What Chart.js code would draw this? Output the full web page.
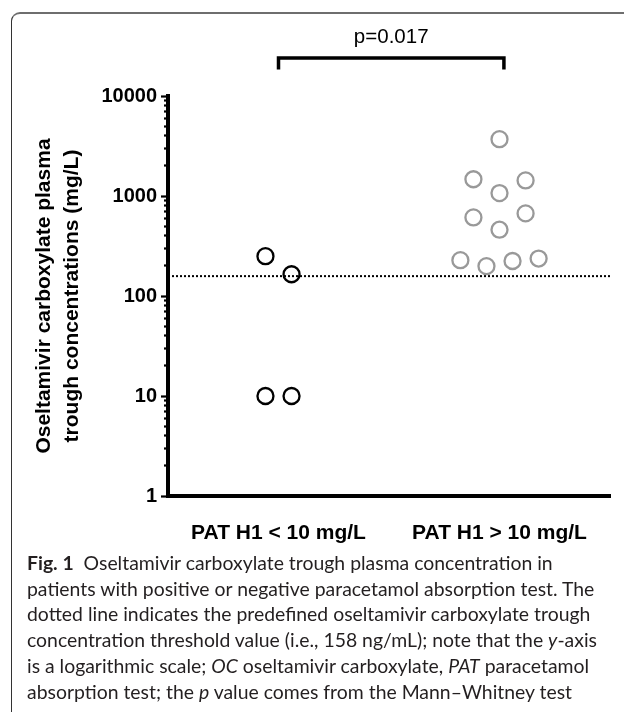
<!DOCTYPE html>
<html>
<head>
<meta charset="utf-8">
<script src="https://cdn.jsdelivr.net/npm/chart.js@4.4.1/dist/chart.umd.min.js"></script>
<style>
  html, body { margin: 0; padding: 0; background: #fff; }
  #page { position: relative; width: 624px; height: 712px; overflow: hidden; }
  #frame {
    position: absolute; left: 11px; top: 12px; width: 640px; height: 720px;
    border-top: 2px solid #6e6e6e; border-left: 1.5px solid #333;
    border-top-left-radius: 9px;
  }
  #chartBox { position: absolute; left: 0; top: 0; width: 624px; height: 560px; }
  #caption {
    position: absolute; left: 27px; top: 550px;
    font-family: Lato, "Open Sans", sans-serif; font-size: 19.4px; line-height: 25.7px;
    color: #231f20; white-space: nowrap;
  }
  #caption b { font-weight: bold; }
</style>
</head>
<body>
<div id="page">
  <div id="frame"></div>
  <div id="chartBox"><canvas id="concChart" width="624" height="560"></canvas></div>
  <div id="caption">
    <div><b>Fig. 1</b>&nbsp; Oseltamivir carboxylate trough plasma concentration in</div>
    <div>patients with positive or negative paracetamol absorption test. The</div>
    <div>dotted line indicates the predefined oseltamivir carboxylate trough</div>
    <div>concentration threshold value (i.e., 158 ng/mL); note that the <i>y</i>-axis</div>
    <div>is a logarithmic scale; <i>OC</i> oseltamivir carboxylate, <i>PAT</i> paracetamol</div>
    <div>absorption test; the <i>p</i> value comes from the Mann–Whitney test</div>
  </div>
</div>
<script>
'use strict';

/* data (mg/L, log scale) */
var categories = ['PAT H1 < 10 mg/L', 'PAT H1 > 10 mg/L'];
var lowPatValues = [250, 165, 10, 10];
var lowPatJitter = [-0.059, 0.059, -0.059, 0.059];
var highPatValues = [3700, 1470, 1430, 1070, 610, 670, 460, 228, 199, 224, 237];
var highPatJitter = [0, -0.118, 0.118, 0, -0.118, 0.118, 0, -0.177, -0.059, 0.059, 0.177];
var thresholdValue = 158;
var yMajorTicks = [1, 10, 100, 1000, 10000];
var yMinorTicks = [2, 3, 4, 5, 6, 7, 8, 9, 20, 30, 40, 50, 60, 70, 80, 90,
	200, 300, 400, 500, 600, 700, 800, 900, 2000, 3000, 4000, 5000, 6000, 7000, 8000, 9000];
var bracketLow = 18400;
var bracketHigh = 24000;
var bracketEnds = [1, 2.02];
var pValueText = 'p=0.017';

function toPoints(values, jitter, group) {
	return values.map(function (v, i) {
		return { x: group + jitter[i], y: v };
	});
}

Chart.defaults.font.family = '"Liberation Sans", Arial, sans-serif';
Chart.defaults.color = '#000';

/* p value text above the bracket */
var pValuePlugin = {
	id: 'pValue',
	afterDatasetsDraw: function (chart) {
		var ctx = chart.ctx;
		var xs = chart.scales.x;
		var ys = chart.scales.y;
		var cx = (xs.getPixelForValue(bracketEnds[0]) + xs.getPixelForValue(bracketEnds[1])) / 2;
		var cy = ys.getPixelForValue(bracketHigh) - 21;
		ctx.save();
		ctx.font = '20.5px "Liberation Sans", Arial, sans-serif';
		ctx.fillStyle = '#000';
		ctx.textAlign = 'center';
		ctx.textBaseline = 'middle';
		ctx.fillText(pValueText, cx, cy);
		ctx.restore();
	}
};

var ctxOne = document.getElementById('concChart').getContext('2d');
var chart = new Chart(ctxOne, {
	type: 'scatter',
	data: {
		datasets: [{
			label: 'threshold',
			type: 'line',
			data: [{ x: 0.5, y: thresholdValue }, { x: 2.5, y: thresholdValue }],
			borderColor: '#000',
			borderWidth: 2,
			borderDash: [2, 2],
			pointRadius: 0,
			fill: false,
		},
		{
			label: 'bracket',
			type: 'line',
			data: [
				{ x: bracketEnds[0], y: bracketLow }, { x: bracketEnds[0], y: bracketHigh },
				{ x: bracketEnds[1], y: bracketHigh }, { x: bracketEnds[1], y: bracketLow }
			],
			borderColor: '#000',
			borderWidth: 3.5,
			borderCapStyle: 'butt',
			borderJoinStyle: 'miter',
			pointRadius: 0,
			fill: false,
			clip: false,
		},
		{
			label: categories[0],
			data: toPoints(lowPatValues, lowPatJitter, 1),
			pointRadius: 8,
			borderWidth: 2.3,
			borderColor: '#000',
			backgroundColor: 'rgba(0,0,0,0)',
		},
		{
			label: categories[1],
			data: toPoints(highPatValues, highPatJitter, 2),
			pointRadius: 8,
			borderWidth: 2.3,
			borderColor: '#999',
			backgroundColor: 'rgba(0,0,0,0)',
		}]
	},
	options: {
		responsive: false,
		animation: false,
		layout: { padding: { left: 0, right: 14, top: 96, bottom: 0 } },
		plugins: { legend: { display: false }, tooltip: { enabled: false } },
		scales: {
			x: {
				type: 'linear',
				min: 0.5,
				max: 2.5,
				afterBuildTicks: function (scale) {
					scale.ticks = [{ value: 1 }, { value: 2 }];
				},
				afterFit: function (scale) { scale.height = 64; },
				ticks: {
					autoSkip: false,
					padding: 25,
					font: { size: 21, weight: 'bold' },
					callback: function (value) { return categories[value - 1]; }
				},
				grid: { drawOnChartArea: false, drawTicks: false },
				border: { display: true, width: 4, color: '#000' }
			},
			y: {
				type: 'logarithmic',
				position: 'left',
				weight: 1,
				min: 1,
				max: 10000,
				afterBuildTicks: function (scale) {
					scale.ticks = yMajorTicks.map(function (v) { return { value: v }; });
				},
				afterFit: function (scale) { scale.width = 168; },
				ticks: {
					autoSkip: false,
					padding: 4,
					font: { size: 20, weight: 'bold' },
					callback: function (value) { return String(value); }
				},
				grid: { drawOnChartArea: false, drawTicks: true, tickLength: 7, tickWidth: 2.2, tickColor: '#000' },
				border: { display: true, width: 4, color: '#000' },
				title: {
					display: true,
					text: ['Oseltamivir carboxylate plasma', 'trough concentrations (mg/L)'],
					font: { size: 21, weight: 'bold', lineHeight: 1.3333 },
					padding: { top: 30, bottom: 0 }
				}
			},
			yMinor: {
				type: 'logarithmic',
				position: 'left',
				weight: 0,
				min: 1,
				max: 10000,
				afterBuildTicks: function (scale) {
					scale.ticks = yMinorTicks.map(function (v) { return { value: v }; });
				},
				afterFit: function (scale) { scale.width = 0; },
				ticks: { display: false, autoSkip: false },
				grid: { drawOnChartArea: false, drawTicks: true, tickLength: 4, tickWidth: 2.2, tickColor: '#000' },
				border: { display: false }
			}
		}
	},
	plugins: [pValuePlugin]
});
</script>
</body>
</html>
